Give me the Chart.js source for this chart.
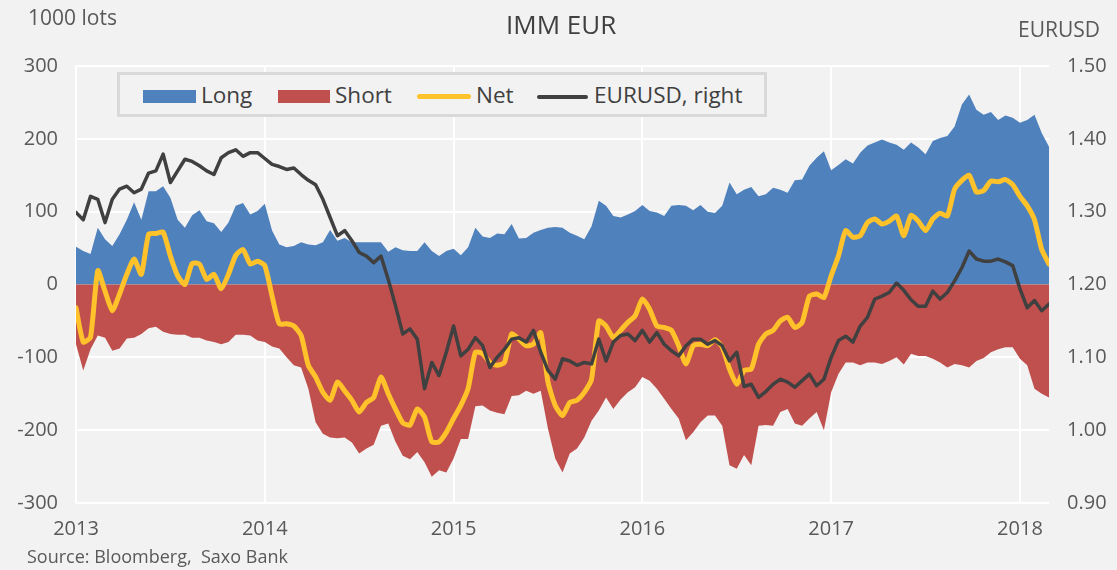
<!DOCTYPE html>
<html>
<head>
<meta charset="utf-8">
<title>IMM EUR</title>
<script src="https://cdn.jsdelivr.net/npm/chart.js@4.4.1/dist/chart.umd.min.js"></script>
<style>
  body { margin: 0; background: #f2f2f2; font-family: "Open Sans", sans-serif; color: #595959; }
  #wrap { position: relative; width: 1117px; height: 570px; overflow: hidden; }
  #chart { position: absolute; left: 0; top: 0; }
  .txt { position: absolute; white-space: nowrap; line-height: 1; }
  .leg { position: absolute; white-space: nowrap; line-height: 1; font-size: 22.5px; color: #404040; top: 84px; }
  #legend { position: absolute; left: 117px; top: 72px; width: 644px; height: 39px;
            border: 3px solid #d9d9d9; background: #f2f2f2; }
  .sw { position: absolute; }
</style>
</head>
<body>
<div id="wrap">
  <canvas id="chart" width="1117" height="570"></canvas>
  <div class="txt" style="left:28px; top:7px; font-size:21px;">1000 lots</div>
  <div class="txt" style="left:506px; top:11px; font-size:26px; color:#404040;">IMM EUR</div>
  <div class="txt" style="right:17px; top:19px; font-size:21px;">EURUSD</div>
  <div class="txt" style="left:27px; top:547px; font-size:18px;">Source: Bloomberg,&nbsp; Saxo Bank</div>

  <div id="legend"></div>
  <div class="sw" style="left:143px; top:90px; width:53px; height:13px; background:#4f81bd;"></div>
  <div class="leg" style="left:201px;">Long</div>
  <div class="sw" style="left:278px; top:90px; width:52px; height:13px; background:#c0504d;"></div>
  <div class="leg" style="left:335px;">Short</div>
  <div class="sw" style="left:417px; top:94px; width:54px; height:5px; border-radius:3px; background:#ffc22a;"></div>
  <div class="leg" style="left:476px;">Net</div>
  <div class="sw" style="left:537px; top:95px; width:51px; height:4px; border-radius:2px; background:#404040;"></div>
  <div class="leg" style="left:594px;">EURUSD, right</div>
</div>
<script>
// CFTC IMM positioning in EUR futures, 1000 lots, sampled every two weeks from Jan 2013
const startYear = 2013;
const stepsPerYear = 26;

const longPos = [
  52, 46, 42, 78, 62, 53, 69, 89, 113, 89, 128, 128, 135, 119, 89, 78, 95, 102, 87, 84, 72, 85, 108,
  112, 96, 101, 111, 74, 55, 51, 53, 58, 55, 54, 58, 75, 60, 64, 58, 58, 58, 58, 58, 45, 51, 47, 46,
  46, 58, 46, 39, 46, 49, 40, 51, 78, 66, 64, 70, 69, 83, 63, 64, 71, 75, 78, 79, 78, 71, 67,
  62, 80, 115, 108, 94, 92, 96, 101, 109, 101, 99, 94, 108, 109, 108, 102, 109, 100, 98, 108, 140, 124, 130, 134,
  121, 124, 133, 130, 126, 143, 144, 163, 174, 183, 157, 164, 172, 166, 181, 191, 195, 199, 195, 192, 185, 195, 188,
  179, 197, 201, 204, 217, 247, 261, 240, 233, 237, 226, 232, 229, 222, 226, 233, 208, 189
];

const shortPos = [
  -82, -118, -89, -70, -73, -91, -88, -74, -73, -68, -60, -58, -65, -68, -69, -69, -73, -73, -77, -79, -82, -79, -69,
  -69, -70, -77, -79, -85, -88, -100, -111, -114, -143, -189, -205, -210, -211, -210, -217, -232, -225, -220, -194, -191, -216, -235, -240,
  -230, -244, -264, -255, -258, -239, -212, -212, -167, -166, -173, -176, -178, -153, -152, -146, -150, -146, -198, -239, -258, -232, -225,
  -210, -187, -173, -155, -171, -158, -148, -141, -127, -132, -143, -157, -171, -184, -214, -203, -189, -180, -180, -194, -248, -253, -234, -248,
  -194, -193, -194, -175, -171, -191, -194, -184, -175, -200, -148, -123, -107, -107, -111, -107, -107, -109, -105, -100, -110, -95, -98,
  -98, -102, -107, -114, -109, -111, -114, -105, -101, -93, -89, -86, -86, -102, -111, -143, -150, -155
];

const netPos = [
  -32, -79, -72, 19, -9, -36, -13, 14, 35, 14, 69, 70, 72, 39, 12, 0, 29, 28, 7, 14, -6, 14, 40,
  48, 28, 32, 26, -16, -54, -54, -57, -70, -111, -127, -148, -159, -134, -146, -159, -175, -162, -155, -127, -150, -171, -190, -193,
  -171, -182, -216, -216, -203, -184, -166, -143, -93, -95, -107, -111, -107, -68, -75, -84, -82, -66, -134, -166, -180, -162, -159,
  -148, -130, -50, -57, -73, -63, -52, -43, -20, -34, -57, -59, -63, -84, -109, -84, -82, -84, -76, -86, -116, -137, -118, -116,
  -82, -68, -63, -50, -45, -59, -52, -16, -13, -18, 12, 39, 74, 65, 67, 85, 90, 83, 87, 94, 67, 95, 87,
  74, 90, 98, 94, 131, 143, 150, 127, 129, 142, 141, 144, 137, 121, 108, 89, 48, 28
];

const eurusd = [
  1.299, 1.289, 1.321, 1.317, 1.285, 1.317, 1.331, 1.335, 1.326, 1.331, 1.353, 1.356, 1.379, 1.340, 1.356, 1.372, 1.369, 1.363, 1.356, 1.351, 1.374, 1.381, 1.385,
  1.376, 1.381, 1.381, 1.373, 1.365, 1.362, 1.358, 1.360, 1.351, 1.343, 1.337, 1.317, 1.292, 1.267, 1.274, 1.260, 1.244, 1.239, 1.230, 1.239, 1.207, 1.171, 1.132, 1.139,
  1.125, 1.057, 1.093, 1.075, 1.107, 1.143, 1.102, 1.111, 1.127, 1.116, 1.086, 1.100, 1.111, 1.125, 1.127, 1.121, 1.137, 1.107, 1.082, 1.070, 1.098, 1.095, 1.089,
  1.093, 1.091, 1.125, 1.095, 1.121, 1.130, 1.132, 1.123, 1.137, 1.121, 1.134, 1.118, 1.109, 1.102, 1.116, 1.125, 1.125, 1.118, 1.123, 1.116, 1.095, 1.107, 1.060, 1.063,
  1.045, 1.053, 1.063, 1.070, 1.066, 1.059, 1.068, 1.077, 1.061, 1.070, 1.100, 1.123, 1.129, 1.121, 1.143, 1.155, 1.180, 1.184, 1.189, 1.202, 1.192, 1.179, 1.170,
  1.170, 1.191, 1.180, 1.189, 1.205, 1.223, 1.246, 1.235, 1.232, 1.232, 1.235, 1.231, 1.226, 1.194, 1.168, 1.178, 1.164, 1.173
];

// x = fractional year of each sample
const dates = longPos.map((_, i) => startYear + i / stepsPerYear);
const lastDate = dates[dates.length - 1];

function pts(values) {
  return values.map((v, i) => ({ x: dates[i], y: v }));
}

const tickFont = { family: "'Open Sans', sans-serif", size: 20 };
const tickColor = "#595959";

new Chart(document.getElementById("chart"), {
  type: "line",
  data: {
    datasets: [
      {
        label: "Long", data: pts(longPos), yAxisID: "y", order: 4,
        borderWidth: 0, pointRadius: 0, fill: "origin", backgroundColor: "#4f81bd"
      },
      {
        label: "Short", data: pts(shortPos), yAxisID: "y", order: 3,
        borderWidth: 0, pointRadius: 0, fill: "origin", backgroundColor: "#c0504d"
      },
      {
        label: "Net", data: pts(netPos), yAxisID: "y", order: 2,
        borderColor: "#ffc22a", borderWidth: 5, pointRadius: 0, fill: false,
        borderJoinStyle: "round", borderCapStyle: "round", tension: 0.2
      },
      {
        label: "EURUSD, right", data: pts(eurusd), yAxisID: "y1", order: 1,
        borderColor: "#404040", borderWidth: 3.5, pointRadius: 0, fill: false,
        borderJoinStyle: "round", borderCapStyle: "round"
      }
    ]
  },
  options: {
    responsive: false,
    animation: false,
    layout: { padding: { top: 66, left: 0, right: 0, bottom: 0 } },
    plugins: { legend: { display: false }, tooltip: { enabled: false } },
    scales: {
      x: {
        type: "linear", min: startYear, max: lastDate,
        ticks: { stepSize: 1, includeBounds: false, callback: v => String(v), font: tickFont, color: tickColor, padding: 14, maxRotation: 0 },
        grid: { color: "#ffffff", lineWidth: 2, drawTicks: false },
        border: { display: false },
        afterFit: s => { s.height = 67; }
      },
      y: {
        position: "left", min: -300, max: 300,
        ticks: { stepSize: 100, font: tickFont, color: tickColor, padding: 18 },
        grid: { color: "#ffffff", lineWidth: 2, drawTicks: false },
        border: { display: false },
        afterFit: s => { s.width = 76; }
      },
      y1: {
        position: "right", min: 0.9, max: 1.5,
        ticks: { stepSize: 0.1, font: tickFont, color: tickColor, padding: 18, callback: v => v.toFixed(2) },
        grid: { drawOnChartArea: false, drawTicks: false },
        border: { display: false },
        afterFit: s => { s.width = 68; }
      }
    }
  }
});
</script>
</body>
</html>
